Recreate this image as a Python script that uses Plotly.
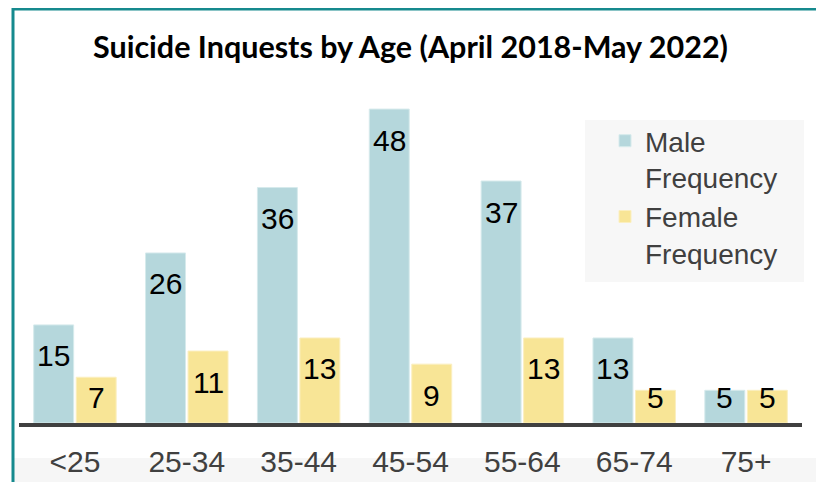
import plotly.graph_objects as go

categories = ["<25", "25-34", "35-44", "45-54", "55-64", "65-74", "75+"]
male = [15, 26, 36, 48, 37, 13, 5]
female = [7, 11, 13, 9, 13, 5, 5]
series_names = ["Male<br>Frequency", "Female<br>Frequency"]
title_text = "<b>Suicide Inquests by Age (April 2018-May 2022)</b>"

MALE_C = "#b5d7dc"
FEMALE_C = "#f8e596"
FONT = "Liberation Sans, Arial, sans-serif"

# page is 824x482; the html body has an 8px margin, so the figure starts at (8, 8)
OFF = 8
PAGE_W, PAGE_H = 824, 482
W, H = PAGE_W - OFF, PAGE_H - OFF
PLOT_L, PLOT_R, PLOT_T, PLOT_B = 19, 802, 96, 423   # page pixel coordinates
L, R, T, B = PLOT_L - OFF, PAGE_W - PLOT_R, PLOT_T - OFF, PAGE_H - PLOT_B
PW = PLOT_R - PLOT_L
PH = PLOT_B - PLOT_T
YMAX = 50.0


def px_x(px):
    return (px - PLOT_L) / PW


def px_y(py):
    return (PLOT_B - py) / PH


fig = go.Figure()
fig.add_trace(go.Bar(x=categories, y=male, name=series_names[0],
                     marker=dict(color=MALE_C, line=dict(color="#d6eaec", width=1))))
fig.add_trace(go.Bar(x=categories, y=female, name=series_names[1],
                     marker=dict(color=FEMALE_C, line=dict(color="#fbefc0", width=1))))

slot_px = PW / len(categories) * (1 - 0.24) / 2
px_per_unit = PH / YMAX
annotations = []
for vals, sign in ((male, -1), (female, 1)):
    for c, v in zip(categories, vals):
        yc = max(v - 31 / px_per_unit, 26 / px_per_unit)
        annotations.append(dict(x=c, y=yc, xref="x", yref="y", text=str(v),
                                showarrow=False, xshift=sign * slot_px / 2,
                                yanchor="middle",
                                font=dict(family=FONT, size=30, color="#000000")))

shapes = [
    # light strip behind tick labels
    dict(type="rect", xref="paper", yref="paper", x0=px_x(14), x1=px_x(817),
         y0=px_y(500), y1=px_y(458), fillcolor="#f6f6f6", line=dict(width=0), layer="below"),
    # legend background
    dict(type="rect", xref="paper", yref="paper", x0=px_x(585), x1=px_x(804),
         y0=px_y(282), y1=px_y(120), fillcolor="#f7f7f7", line=dict(width=0), layer="below"),
    # outer teal frame
    dict(type="rect", xref="paper", yref="paper", x0=px_x(13), x1=px_x(818),
         y0=px_y(520), y1=px_y(9), fillcolor="rgba(0,0,0,0)",
         line=dict(color="#168a8e", width=3)),
]

fig.update_layout(
    width=W, height=H,
    margin=dict(l=L, r=R, t=T, b=B, autoexpand=False),
    paper_bgcolor="white", plot_bgcolor="rgba(0,0,0,0)",
    barmode="group", bargap=0.24, bargroupgap=0.06,
    title=dict(text=title_text, x=0.5, xref="paper", xanchor="center",
               y=1 - (47 - OFF) / H, yanchor="middle",
               font=dict(family="Lato, DejaVu Sans Condensed, sans-serif",
                         size=30.5, color="#000000")),
    legend=dict(x=px_x(605), y=px_y(116), xanchor="left", yanchor="top",
                bgcolor="rgba(0,0,0,0)", valign="top",
                font=dict(family=FONT, size=28, color="#404040"),
                tracegroupgap=0),
    xaxis=dict(range=[-0.5, 6.5], showline=True, linewidth=4, linecolor="#404040",
               ticks="", showgrid=False, automargin=False, ticklabelstandoff=9,
               tickfont=dict(family=FONT, size=30, color="#404040")),
    yaxis=dict(range=[0, YMAX], visible=False, automargin=False),
    annotations=annotations,
    shapes=shapes,
)

fig.write_html("out.html")
